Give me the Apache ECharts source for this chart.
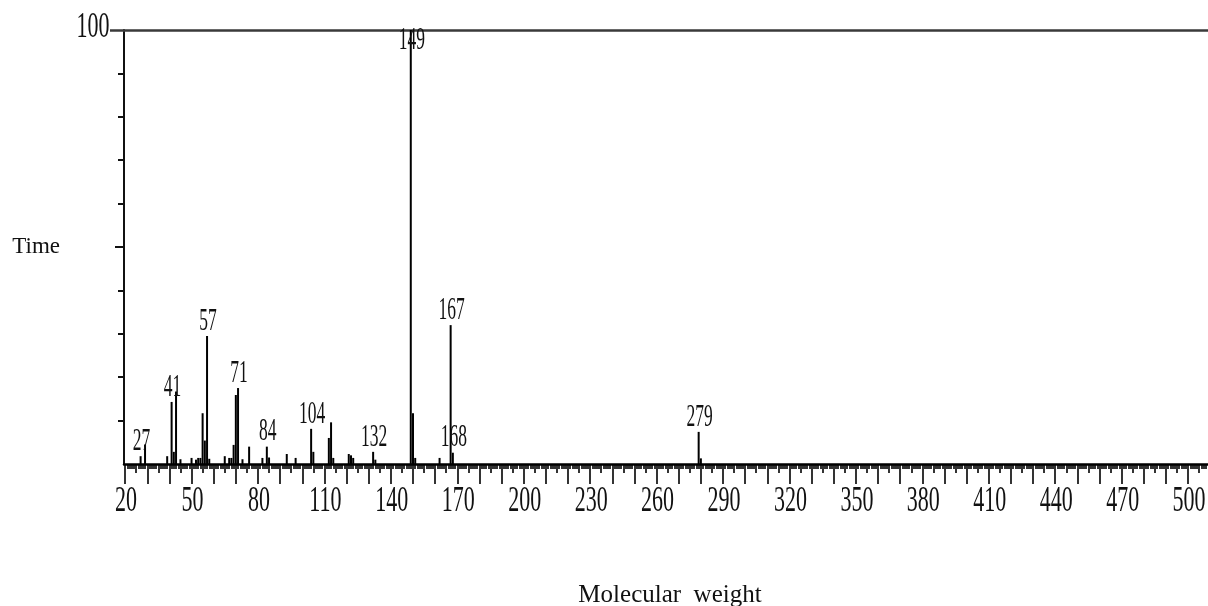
<!DOCTYPE html>
<html>
<head>
<meta charset="utf-8">
<script src="https://cdn.jsdelivr.net/npm/echarts@6/dist/echarts.min.js"></script>
<style>
  html, body { margin: 0; padding: 0; background: #fff; }
  #chart { width: 1208px; height: 606px; }
</style>
</head>
<body>
<div id="chart"></div>
<script>
// m/z of every peak and its relative intensity (%)
const peakMz = [27, 29, 39, 41, 42, 43, 45, 50, 52, 53, 54, 55, 56, 57, 58, 65, 67, 68, 69, 70, 71, 73, 76, 82, 84, 85, 93, 97, 104, 105, 112, 113, 114, 121, 122, 123, 132, 133, 149, 150, 151, 162, 167, 168, 279, 280];
const peakInt = [1.8, 4.5, 1.8, 14.3, 2.8, 16.7, 1.1, 1.4, 1.0, 1.4, 1.4, 11.7, 5.4, 29.5, 1.2, 1.8, 1.4, 1.4, 4.4, 15.9, 17.5, 1.1, 4.0, 1.4, 4.0, 1.5, 2.3, 1.4, 8.1, 2.8, 6.0, 9.6, 1.4, 2.3, 2.0, 1.4, 2.8, 1.0, 100, 11.7, 1.4, 1.4, 32, 2.6, 7.4, 1.3];
// peaks that carry a number
const labelledMz = [27, 41, 57, 71, 84, 104, 132, 149, 167, 168, 279];
// axis labels
const xTickLabels = [20, 50, 80, 110, 140, 170, 200, 230, 260, 290, 320, 350, 380, 410, 440, 470, 500];
const yTickLabels = [100];

const X_MIN = 19.5, X_MAX = 509;
const serif = '"Liberation Serif", "Times New Roman", serif';

function range(from, to, step) {
  const out = [];
  for (let v = from; v <= to; v += step) out.push(v);
  return out;
}
const unitTicks = range(20, 508, 1).filter((v) => v % 5 !== 0);
const fiveTicks = range(25, 505, 10);
const tenTicks = range(20, 500, 10);

const peakData = peakMz.map((m, i) => [m, peakInt[i]]);
const labelData = labelledMz.map((m) => [m, peakInt[peakMz.indexOf(m)]]);

function tickAxis(ticks, len, extra) {
  return Object.assign({
    type: "value", min: X_MIN, max: X_MAX, position: "bottom",
    axisLine: { show: false },
    axisTick: { show: true, customValues: ticks, length: len, lineStyle: { color: "#000", width: 1.6 } },
    axisLabel: { show: false },
    splitLine: { show: false },
  }, extra || {});
}

function yTickAxis(ticks, len, color, width, extra) {
  return Object.assign({
    type: "value", min: 0, max: 100, position: "left",
    axisLine: { show: false },
    axisTick: { show: true, customValues: ticks, length: len, lineStyle: { color: color, width: width } },
    axisLabel: { show: false },
    splitLine: { show: false },
  }, extra || {});
}

function textItem(x, y, text, size, sy) {
  return {
    type: "text", x: x, y: y, scaleY: sy,
    style: { text: text, font: size + "px " + serif, fill: "#111", align: "center", verticalAlign: "middle" },
  };
}

const chart = echarts.init(document.getElementById("chart"));
chart.setOption({
  animation: false,
  backgroundColor: "#fff",
  grid: { left: 124, right: 0, top: 30, bottom: 142, outerBoundsMode: "none", containLabel: false },
  xAxis: [
    tickAxis(tenTicks, 20, {
      axisLine: { show: true, lineStyle: { color: "#000", width: 2.5 } },
      name: "Molecular  weight",
      nameLocation: "middle",
      nameGap: 119,
      nameTextStyle: { fontFamily: serif, fontSize: 25, color: "#111", padding: [0, 0, 0, 8] },
    }),
    tickAxis(fiveTicks, 9),
    tickAxis(unitTicks, 5),
    {
      type: "value", min: X_MIN, max: X_MAX, position: "top",
      axisLine: { show: true, lineStyle: { color: "#3a3a3a", width: 2.5 } },
      axisTick: { show: false }, axisLabel: { show: false }, splitLine: { show: false },
    },
  ],
  yAxis: [
    yTickAxis([10, 20, 30, 40, 60, 70, 80, 90], 6, "#111", 2, {
      axisLine: { show: true, lineStyle: { color: "#111", width: 2 } },
      name: "Time",
      nameLocation: "middle",
      nameRotate: 0,
      nameGap: 64,
      nameTextStyle: { fontFamily: serif, fontSize: 23, color: "#111", padding: [0, 0, 22, 0] },
    }),
    yTickAxis([50], 9, "#111", 2),
    yTickAxis([100], 14, "#3a3a3a", 2.5),
  ],
  series: [
    {
      type: "bar",
      xAxisIndex: 0, yAxisIndex: 0,
      data: peakData,
      barWidth: 2,
      itemStyle: { color: "#000" },
      silent: true,
    },
    {
      type: "custom",
      xAxisIndex: 0, yAxisIndex: 0,
      clip: false, silent: true, z: 10,
      data: labelData,
      renderItem: function (params, api) {
        const p = api.coord([api.value(0), api.value(1)]);
        const top = api.value(1) >= 95;
        return textItem(p[0] + 1, top ? p[1] + 11 : p[1] - 14.5, String(labelledMz[params.dataIndex]), 17.5, 1.8);
      },
    },
    {
      type: "custom",
      xAxisIndex: 0, yAxisIndex: 0,
      clip: false, silent: true, z: 10,
      data: xTickLabels.map((v) => [v, 0]),
      renderItem: function (params, api) {
        const p = api.coord([api.value(0), 0]);
        return textItem(p[0] + 1, p[1] + 38, String(xTickLabels[params.dataIndex]), 22, 1.6);
      },
    },
    {
      type: "custom",
      xAxisIndex: 0, yAxisIndex: 0,
      clip: false, silent: true, z: 10,
      data: yTickLabels.map((v) => [X_MIN, v]),
      renderItem: function (params, api) {
        const p = api.coord([X_MIN, api.value(1)]);
        return textItem(p[0] - 31, p[1] - 2, String(yTickLabels[params.dataIndex]), 22, 1.6);
      },
    },
  ],
});
</script>
</body>
</html>
